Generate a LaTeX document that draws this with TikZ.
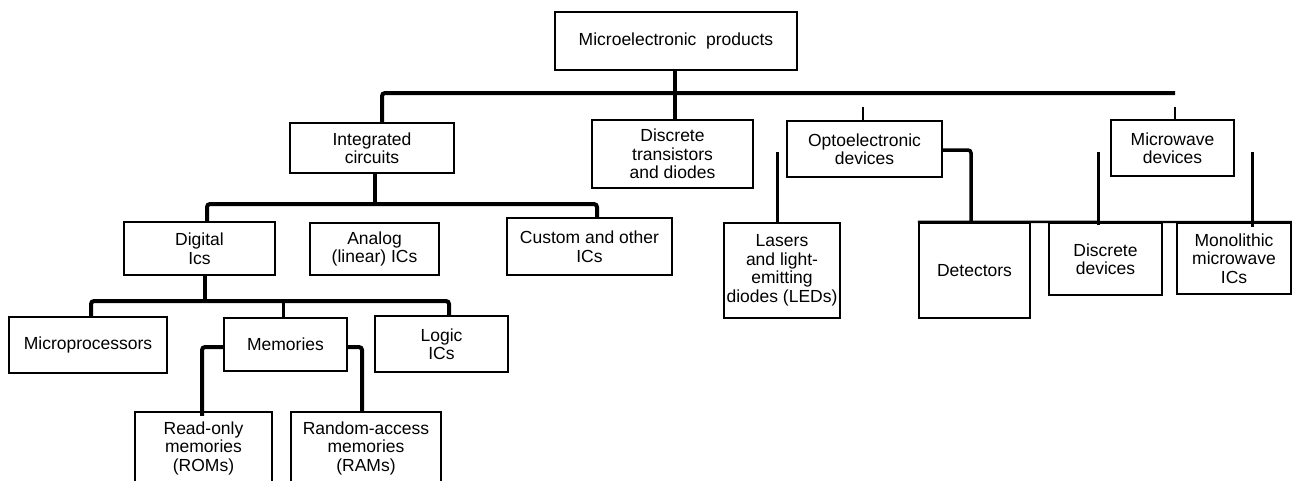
\documentclass[tikz,border=0pt]{standalone}
\usepackage{fontspec}
\setmainfont{Liberation Sans}
\begin{document}
\begin{tikzpicture}[x=1pt,y=-1pt,
  box/.style={draw,rectangle,line width=2.4pt,inner sep=0pt,align=center,
    font=\fontsize{17.5}{18.5}\selectfont},
  conn/.style={line width=4pt,rounded corners=3pt},
  midconn/.style={line width=3pt},
  thinconn/.style={line width=1.6pt}]
\useasboundingbox (0,0) rectangle (1294,480);
% boxes
\node (root)  [box,minimum width=242pt,minimum height=58pt] at (676,41) {Microelectronic\ \ products};
\node (ic)    [box,minimum width=164pt,minimum height=50pt] at (372,148) {Integrated\\circuits};
\node (disc)  [box,minimum width=161pt,minimum height=68pt] at (672.5,154) {Discrete\\transistors\\and diodes};
\node (opto)  [box,line width=1.8pt,minimum width=155pt,minimum height=56pt] at (864.5,149) {Optoelectronic\\devices};
\node (mw)    [box,line width=1.8pt,minimum width=123pt,minimum height=56pt] at (1172.5,148) {Microwave\\devices};
\node (dig)   [box,minimum width=151pt,minimum height=53pt] at (199.5,248.5) {Digital\\Ics};
\node (ana)   [box,minimum width=129pt,minimum height=52pt] at (374.5,249) {Analog\\(linear) ICs};
\node (cust)  [box,minimum width=165pt,minimum height=57pt] at (589.5,246.5) {Custom and other\\ICs};
\node (las)   [box,minimum width=116pt,minimum height=95pt] at (782,270.5) {Lasers\\and light-\\emitting\\diodes (LEDs)};
\node (det)   [box,minimum width=111pt,minimum height=95pt] at (974.5,270.5) {Detectors};
\node (ddev)  [box,minimum width=113pt,minimum height=72pt] at (1105.5,259) {Discrete\\devices};
\node (mmic)  [box,line width=1.8pt,minimum width=114pt,minimum height=71pt] at (1234,258.5) {Monolithic\\microwave\\ICs};
\node (micro) [box,minimum width=158pt,minimum height=56pt] at (88,345) {Microprocessors};
\node (mem)   [box,minimum width=123pt,minimum height=53pt] at (285.5,344.5) {Memories};
\node (logic) [box,line width=2pt,minimum width=133pt,minimum height=56pt] at (441.5,344) {Logic\\ICs};
\node (rom)   [box,minimum width=137pt,minimum height=72pt] at (203.5,448) {Read-only\\memories\\(ROMs)};
\node (ram)   [box,minimum width=150pt,minimum height=72pt] at (366,448) {Random-access\\memories\\(RAMs)};
% bus coordinates
\coordinate (b1L) at (382,93);
\coordinate (b1R) at (1175,93);
\coordinate (b1s) at (675,93);
\coordinate (t1) at (863,107);
\coordinate (t2) at (1175,107);
\coordinate (b2L) at (207,204);
\coordinate (b2R) at (597,204);
\coordinate (b2s) at (375,204);
\coordinate (b3L) at (91,301);
\coordinate (b3R) at (449,301);
\coordinate (b3s) at (205,301);
\coordinate (b3m) at (283,301);
\coordinate (mL) at (202,347);
\coordinate (mR) at (362,347);
\coordinate (oR) at (971,150);
\coordinate (l1) at (777,152);
\coordinate (w1) at (1098,152);
\coordinate (w2) at (1252,152);
% level 1
\draw[conn] (root.south -| b1s) -- (disc.north -| b1s);
\draw[conn] (ic.north -| b1L) |- (b1R);
\draw[thinconn] (t1) -- (opto.north -| t1);
\draw[thinconn] (t2) -- (mw.north -| t2);
% level 2 (integrated circuits)
\draw[conn] (ic.south -| b2s) -- (b2s);
\draw[conn] (dig.north -| b2L) |- (b2R) -- (cust.north -| b2R);
% level 3 (digital)
\draw[conn] (dig.south -| b3s) -- (b3s);
\draw[conn] (micro.north -| b3L) |- (b3R) -- (logic.north -| b3R);
\draw[midconn] (b3m) -- (mem.north -| b3m);
% memories
\draw[conn] (mem.west |- mL) -| ([yshift=-5pt]rom.north -| mL);
\draw[conn] (mem.east |- mR) -| (ram.north -| mR);
% optoelectronic
\draw[conn,line width=3.5pt] (opto.east |- oR) -| (det.north -| oR);
\draw[midconn] (l1) -- (las.north -| l1);
% microwave
\draw[midconn] (w1) -- ([yshift=-3pt]ddev.north -| w1);
\draw[midconn] (w2) -- ([yshift=-5pt]mmic.north -| w2);
\draw[line width=2.4pt] (det.north west) -- (mmic.north east);
\end{tikzpicture}
\end{document}
